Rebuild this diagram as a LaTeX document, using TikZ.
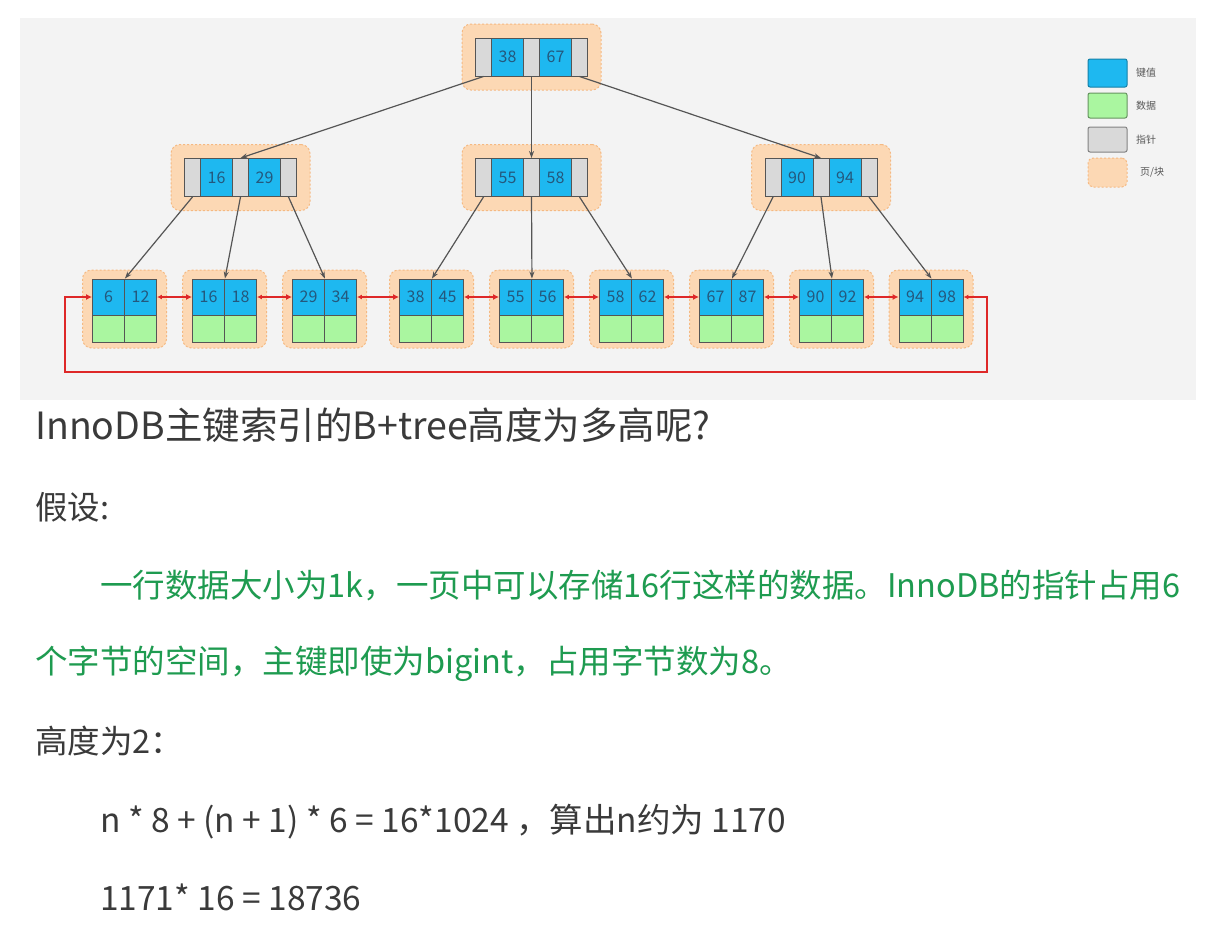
\documentclass[tikz,border=0pt]{standalone}
\usepackage{fontspec}
\setmainfont{Noto Sans CJK SC}
\usetikzlibrary{arrows.meta}

\definecolor{keyblue}{RGB}{30,184,240}
\definecolor{datagreen}{RGB}{170,246,160}
\definecolor{ptrgray}{RGB}{217,217,217}
\definecolor{pagefill}{RGB}{252,216,180}
\definecolor{pageedge}{RGB}{245,185,130}
\definecolor{panel}{RGB}{243,243,243}
\definecolor{linkred}{RGB}{222,40,40}
\definecolor{edgegray}{RGB}{85,85,85}
\definecolor{numtext}{RGB}{36,88,125}
\definecolor{bodytext}{RGB}{58,58,58}
\definecolor{notegreen}{RGB}{30,155,80}

\tikzset{
  cell/.style={draw=edgegray, line width=0.9pt, inner sep=0pt, minimum height=38pt},
  ptrcell/.style={cell, fill=ptrgray, minimum width=16pt},
  keycell/.style={cell, fill=keyblue, minimum width=32pt, text=numtext,
    font=\fontsize{16}{16}\selectfont},
  leafkey/.style={keycell, minimum height=36pt},
  leafdata/.style={cell, fill=datagreen, minimum width=32pt, minimum height=27pt},
  page/.style={draw=pageedge, dash pattern=on 2pt off 2pt, fill=pagefill,
    rounded corners=9pt, line width=1pt, inner sep=0pt},
  treeedge/.style={draw=edgegray, line width=1.2pt, -{Stealth[length=7pt,width=5pt]}},
  leaflink/.style={draw=linkred, line width=1.4pt,
    {Latex[length=5pt,width=5pt]}-{Latex[length=6pt,width=6pt]}},
  legendbox/.style={minimum width=39pt, inner sep=0pt, rounded corners=2pt, line width=1pt},
  legendtext/.style={anchor=west, text=bodytext!85, font=\fontsize{10}{10}\selectfont, inner sep=0pt},
  body/.style={anchor=base west, inner sep=0pt, text=bodytext, font=\fontsize{32.5}{32.5}\selectfont},
  formula/.style={body, font=\fontsize{33.5}{33.5}\selectfont},
}

% inner page: pointer | key | pointer | key | pointer
\newcommand\bpInner[5]{%
  \node[page, minimum width=139pt, minimum height=66pt] (#1) at (#2,#3) {};
  \node[ptrcell] (#1-p1) at ({#2-48},#3) {};
  \node[keycell] (#1-k1) at ({#2-24},#3) {#4};
  \node[ptrcell] (#1-p2) at (#2,#3) {};
  \node[keycell] (#1-k2) at ({#2+24},#3) {#5};
  \node[ptrcell] (#1-p3) at ({#2+48},#3) {};
}
% leaf page: two keys over two data cells
\newcommand\bpLeaf[4]{%
  \node[page, minimum width=84pt, minimum height=78pt] (#1) at (#2,309) {};
  \node[leafkey] (#1-k1) at ({#2-16},297) {#3};
  \node[leafkey] (#1-k2) at ({#2+16},297) {#4};
  \node[leafdata] (#1-d1) at ({#2-16},328.5) {};
  \node[leafdata] (#1-d2) at ({#2+16},328.5) {};
}

\begin{document}
\begin{tikzpicture}[x=1pt, y=-1pt]
  \useasboundingbox[fill=white] (0,0) rectangle (1214,948);
  \fill[panel] (20,18) rectangle (1196,400);

  % internal pages
  \bpInner{root}{531.5}{57}{38}{67}
  \bpInner{ml}{240.5}{177.5}{16}{29}
  \bpInner{mm}{531.5}{177.5}{55}{58}
  \bpInner{mr}{821}{177.5}{90}{94}

  % leaf pages
  \bpLeaf{l1}{124.5}{6}{12}
  \bpLeaf{l2}{224.5}{16}{18}
  \bpLeaf{l3}{324.5}{29}{34}
  \bpLeaf{l4}{431.5}{38}{45}
  \bpLeaf{l5}{531.5}{55}{56}
  \bpLeaf{l6}{631.5}{58}{62}
  \bpLeaf{l7}{731.5}{67}{87}
  \bpLeaf{l8}{831.5}{90}{92}
  \bpLeaf{l9}{931}{94}{98}

  % pointers from the root
  \draw[treeedge] (root-p1.south) -- (ml-p2.north);
  \draw[treeedge] (root-p2.south) -- (mm-p2.north);
  \draw[treeedge] (root-p3.south) -- (mr-p2.north);

  % pointers to the leaves
  \draw[treeedge] (ml-p1.south) -- (l1-k1.north east);
  \draw[treeedge] (ml-p2.south) -- (l2-k1.north east);
  \draw[treeedge] (ml-p3.south) -- (l3-k1.north east);
  \draw[treeedge] (mm-p1.south) -- (l4-k1.north east);
  \draw[treeedge] (mm-p2.south) -- (l5-k1.north east);
  \draw[treeedge] (mm-p3.south) -- (l6-k1.north east);
  \draw[treeedge] (mr-p1.south) -- (l7-k1.north east);
  \draw[treeedge] (mr-p2.south) -- (l8-k1.north east);
  \draw[treeedge] (mr-p3.south) -- (l9-k1.north east);

  % doubly linked leaf list
  \foreach \a/\b in {l1/l2, l2/l3, l3/l4, l4/l5, l5/l6, l6/l7, l7/l8, l8/l9}
    \draw[leaflink] (\a-k2.east) -- (\b-k1.west);
  \coordinate (loopR) at (987,372);
  \coordinate (loopL) at (65,372);
  \draw[leaflink, rounded corners=0pt] (l9-k2.east) -| (loopR) -- (loopL) |- (l1-k1.west);

  % legend
  \node[legendbox, fill=keyblue, draw=keyblue!70!black, minimum height=28pt] (lgKey) at (1107.5,73) {};
  \node[legendbox, fill=datagreen, draw=datagreen!60!black, minimum height=25pt] (lgData) at (1107.5,105.5) {};
  \node[legendbox, fill=ptrgray, draw=ptrgray!60!black, minimum height=25pt] (lgPtr) at (1107.5,139.5) {};
  \node[legendbox, fill=pagefill, draw=pageedge, dash pattern=on 2pt off 2pt, rounded corners=5pt, minimum height=29pt] (lgPage) at (1107.5,172.5) {};
  \node[legendtext] (lgKeyT) at (1136,73) {键值};
  \node[legendtext] (lgDataT) at (1136,106) {数据};
  \node[legendtext] (lgPtrT) at (1136,139.5) {指针};
  \node[legendtext] (lgPageT) at (1140,172.5) {页/块};

  % explanation text
  \node[body, font=\fontsize{37.5}{37.5}\selectfont] (title) at (35,439) {InnoDB主键索引的B+tree高度为多高呢?};
  \node[body] (assume) at (35,519) {假设:};
  \node[body, text=notegreen] (noteA) at (100,597) {一行数据大小为1k，一页中可以存储16行这样的数据。InnoDB的指针占用6};
  \node[body, text=notegreen] (noteB) at (35,673) {个字节的空间，主键即使为bigint，占用字节数为8。};
  \node[body] (height) at (35,753) {高度为2：};
  \node[formula] (calcA) at (100,832) {n * 8 + (n + 1) * 6 = 16*1024 ，算出n约为 1170};
  \node[formula] (calcB) at (100,910) {1171* 16 = 18736};
\end{tikzpicture}
\end{document}
